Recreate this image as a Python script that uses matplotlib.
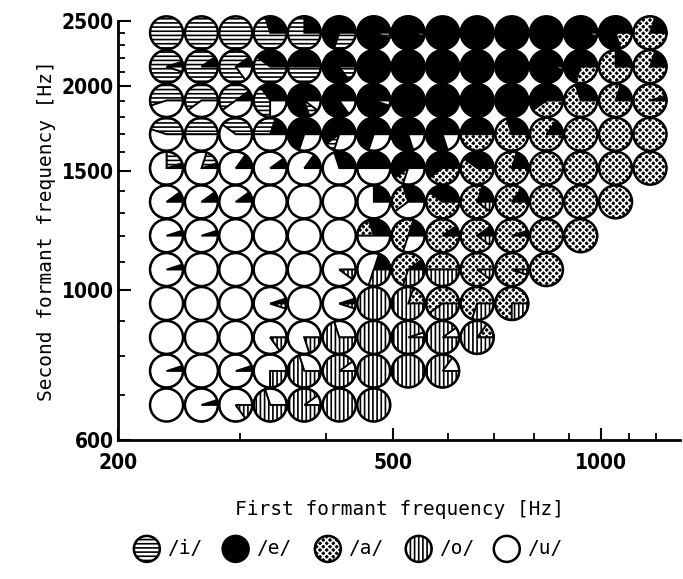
import numpy as np
import matplotlib.pyplot as plt
import matplotlib.transforms as mtransforms
from matplotlib.patches import Wedge, Circle
from matplotlib.ticker import FixedLocator, NullFormatter

# grid of stimuli: F1 columns, F2 rows (top row first)
F1_HZ = [235, 264, 296, 332, 372, 418, 469, 526, 590, 662, 743, 834, 935, 1050, 1178]
F2_HZ = [2400, 2139, 1906, 1699, 1514, 1350, 1203, 1072, 955, 851, 759, 676]

VOWELS = ["/i/", "/e/", "/a/", "/o/", "/u/"]

# identification proportions per stimulus (tenths): (i, e, a, o, u)
ROW_00 = [(10,0,0,0,0), (10,0,0,0,0), (10,0,0,0,0), (7,3,0,0,0), (7.5,2.5,0,0,0), (3,7,0,0,0),
          (0.5,9.5,0,0,0), (0,9.7,0.3,0,0), (0,10,0,0,0), (0,10,0,0,0), (0,10,0,0,0), (0,10,0,0,0),
          (0,9.7,0.3,0,0), (0,8,2,0,0), (0,2,8,0,0)]
ROW_01 = [(9,0.5,0,0,0.5), (9,1,0,0,0), (7.5,1,0,0,1.5), (6,4,0,0,0), (5,5,0,0,0), (1.5,8.5,0,0,0),
          (0,10,0,0,0), (0,10,0,0,0), (0,10,0,0,0), (0,10,0,0,0), (0,10,0,0,0), (0,9.7,0.3,0,0),
          (0,7,3,0,0), (0,2.5,7.5,0,0), (0,2,8,0,0)]
ROW_02 = [(5.5,0,0,0,4.5), (6,0,0,0,4), (5,1,0,0,4), (4,3.5,0,0,2.5), (1,8,0,0,1), (0,8.5,0,0,1.5),
          (0,9.5,0,0,0.5), (0,10,0,0,0), (0,10,0,0,0), (0,10,0,0,0), (0,10,0,0,0), (0,6,4,0,0),
          (0,3,7,0,0), (0,2,8,0,0), (0,0.5,9.5,0,0)]
ROW_03 = [(4.5,0,0,0,5.5), (5,0,0,0,5), (4,0,0,0,6), (3,2,0,0,5), (0,7,0,0,3), (1,6,0,0,3),
          (0,7,0,0,3), (0,8,0,0,2), (0,8,0,0,2), (0,5,5,0,0), (0,3,7,0,0), (0,1.5,8.5,0,0),
          (0,0,10,0,0), (0,0,10,0,0), (0,0,10,0,0)]
ROW_04 = [(2,0.5,0,0,7.5), (1.5,0.5,0,0,8), (0,1.5,0,0,8.5), (0,1,0,0,9), (0,1.5,0,0,8.5), (0,3,0,0,7),
          (0,5,0,0,5), (0,6,1,0,3), (0,6,4,0,0), (0,4,6,0,0), (0,2,8,0,0), (0,0,10,0,0),
          (0,0,10,0,0), (0,0,10,0,0), (0,0,10,0,0)]
ROW_05 = [(0,1,0,0,9), (0,1,0,0,9), (0,1,0,0,9), (0,0,0,0,10), (0,0,0,0,10), (0,0,0,0,10),
          (0,2.5,0,0,7.5), (0,3,3,0,4), (0,4,6,0,0), (0,2,7,1,0), (0,1.5,8.5,0,0), (0,0,10,0,0),
          (0,0,10,0,0), (0,0,10,0,0)]
ROW_06 = [(0,0.5,0,0,9.5), (0,0.5,0,0,9.5), (0,0,0,0,10), (0,0,0,0,10), (0,0,0,0,10), (0,0,0,0,10),
          (0,3,2,0,5), (0,2,5,0,3), (0,1,9,0,0), (0,1,8,1,0), (0,0.5,9.5,0,0), (0,0,10,0,0),
          (0,0,10,0,0)]
ROW_07 = [(0,0.5,0,0,9.5), (0,0,0,0,10), (0,0,0,0,10), (0,0,0,0,10), (0,0,0,0,10), (0,0,0,1,9),
          (0,2,0,3,5), (0,1,6,3,0), (0,0,5,5,0), (0,0,9,1,0), (0,0,9.5,0.5,0), (0,0,10,0,0)]
ROW_08 = [(0,0,0,0,10), (0,0,0,0,10), (0,0,0,0,10), (0,0.5,0,0.5,9), (0,0,0,0,10), (0,0.5,0,0.5,9),
          (0,0,0,10,0), (0,0,2,8,0), (0,0,6,4,0), (0,0,7,3,0), (0,0,7.5,2.5,0)]
ROW_09 = [(0,0,0,0,10), (0,0,0,0,10), (0,0,0,0,10), (0,0,0,1.5,8.5), (0,0,0,2,8), (0,0,0,7,3),
          (0,0,0,10,0), (0,0,0,9.5,0.5), (0,0,0,9,1), (0,0,1.5,8.5,0)]
ROW_10 = [(0,0.5,0,0,9.5), (0,0,0,0,10), (0,0.5,0,0,9.5), (0,0,0,2.5,7.5), (0,0,0,7,3), (0,0,0,9,1),
          (0,0,0,10,0), (0,0,0,10,0), (0,0,0,8.5,1.5)]
ROW_11 = [(0,0,0,0,10), (0,0.5,0,0,9.5), (0,0,0,1.5,8.5), (0,0,0,7,3), (0,0,0,9,1), (0,0,0,10,0),
          (0,0,0,10,0)]

ROWS = [ROW_00, ROW_01, ROW_02, ROW_03, ROW_04, ROW_05, ROW_06, ROW_07, ROW_08, ROW_09, ROW_10, ROW_11]

# fill, hatch colour, hatch pattern per vowel
STYLE = {
    0: ("white", "black", "----"),
    1: ("black", "black", None),
    2: ("black", "white", "xxxxx"),
    3: ("white", "black", "||||"),
    4: ("white", "black", None),
}
# pie order, counter-clockwise from 3 o'clock
ORDER = [1, 2, 0, 4, 3]

R_IN = 0.165
plt.rcParams["hatch.linewidth"] = 1.2


def draw_pie(ax, trans, probs, r=R_IN):
    total = float(sum(probs))
    theta = 0.0
    for k in ORDER:
        p = probs[k] / total
        if p <= 0:
            continue
        fc, hc, hatch = STYLE[k]
        ax.add_patch(Wedge((0, 0), r, theta, theta + 360 * p, facecolor=fc, edgecolor=hc,
                           hatch=hatch, linewidth=0, transform=trans, clip_on=False))
        if p < 1:
            ax.add_patch(Wedge((0, 0), r, theta, theta + 360 * p, facecolor="none",
                               edgecolor="black", linewidth=1.3, transform=trans, clip_on=False))
        theta += 360 * p
    ax.add_patch(Circle((0, 0), r, facecolor="none", edgecolor="black", lw=1.8,
                        transform=trans, clip_on=False))


fig = plt.figure(figsize=(6.83, 5.79), dpi=100)
ax = fig.add_axes([0.173, 0.24, 0.823, 0.724])
ax.set_xscale("log")
ax.set_yscale("log")
ax.set_xlim(200, 1303)
ax.set_ylim(600, 2500)

for j, row in enumerate(ROWS):
    for i, probs in enumerate(row):
        trans = fig.dpi_scale_trans + mtransforms.ScaledTranslation(F1_HZ[i], F2_HZ[j], ax.transData)
        draw_pie(ax, trans, probs)

for s in ("top", "right"):
    ax.spines[s].set_visible(False)
for s in ("left", "bottom"):
    ax.spines[s].set_linewidth(2)

ax.xaxis.set_major_locator(FixedLocator([200, 500, 1000]))
ax.xaxis.set_minor_locator(FixedLocator([300, 400, 600, 700, 800, 900, 1100, 1200]))
ax.yaxis.set_major_locator(FixedLocator([600, 1000, 1500, 2000, 2500]))
ax.yaxis.set_minor_locator(FixedLocator([700, 800, 900, 1100, 1200, 1300, 1400, 1600, 1700,
                                         1800, 1900, 2100, 2200, 2300, 2400]))
ax.set_xticklabels(["200", "500", "1000"])
ax.set_yticklabels(["600", "1000", "1500", "2000", "2500"])
ax.xaxis.set_minor_formatter(NullFormatter())
ax.yaxis.set_minor_formatter(NullFormatter())
ax.tick_params(which="major", direction="in", length=9, width=1.5, labelsize=15)
ax.tick_params(axis="x", which="major", pad=9)
ax.tick_params(axis="y", which="major", pad=3)
ax.tick_params(which="minor", direction="in", length=5, width=1.3)
for lab in ax.get_xticklabels() + ax.get_yticklabels():
    lab.set_fontweight("bold")
    lab.set_fontstretch("condensed")

ax.set_xlabel("First formant frequency [Hz]", family="DejaVu Sans Mono", fontsize=14, labelpad=20)
ax.set_ylabel("Second formant frequency [Hz]", family="DejaVu Sans Mono", fontsize=14, labelpad=4)

# legend row
lx = [0.215, 0.345, 0.48, 0.613, 0.742]
for k, x in enumerate(lx):
    trans = fig.dpi_scale_trans + mtransforms.ScaledTranslation(x, 0.052, fig.transFigure)
    probs = [0] * 5
    probs[k] = 1
    draw_pie(ax, trans, probs, r=0.13)
    fig.text(x + 0.03, 0.052, VOWELS[k], family="DejaVu Sans Mono", fontsize=14, va="center")

fig.savefig("out.png", dpi=100)
